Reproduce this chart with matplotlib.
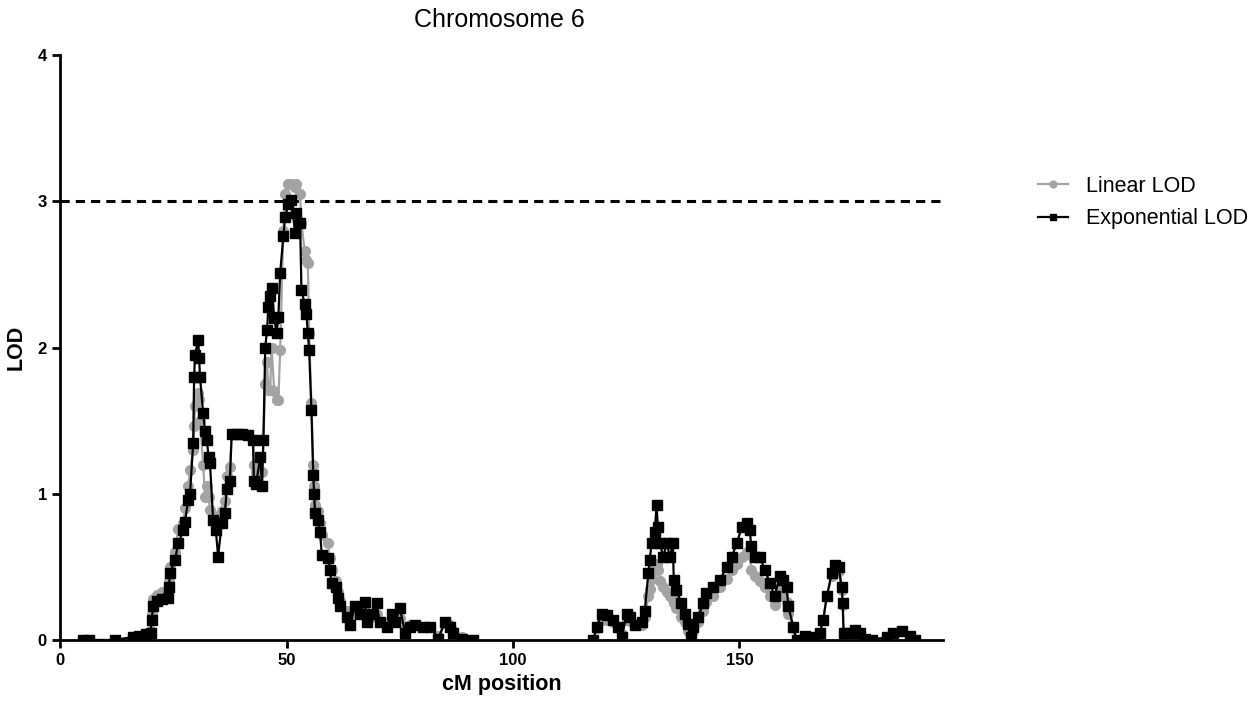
import numpy as np
import matplotlib.pyplot as plt

plt.rcParams['font.family'] = ['Liberation Sans', 'DejaVu Sans']

# cM positions and LOD scores
cm_a = [5.0, 6.5, 12.1, 16.0, 17.5, 19.0, 20.0, 20.2, 20.6, 21.4, 22.6, 23.9, 24.0, 24.3,
        25.4, 26.1, 27.2, 27.6, 28.3, 28.7, 29.4, 29.6, 29.8, 30.5, 30.7, 30.9, 31.6, 32.0,
        32.4, 32.8, 33.1, 33.8, 34.4, 34.9, 35.7, 36.4, 36.8, 37.5, 37.9, 39.0, 40.2, 41.4,
        42.6, 42.8, 43.3, 44.2, 44.6, 44.9, 45.3, 45.7, 46.0, 46.4, 46.7, 47.3, 47.8, 48.2,
        48.6, 49.3, 49.7, 50.4, 51.1, 51.9, 52.2, 53.0, 53.3, 54.0, 54.4, 54.7, 55.0, 55.5,
        55.9, 56.1, 56.3, 57.0, 57.4, 57.8, 59.2, 59.5, 60.0, 61.0, 61.4, 61.8, 63.3, 64.0,
        65.1, 66.2, 67.3, 67.7, 68.8, 69.9, 70.6, 72.1, 73.2, 74.0, 75.0, 76.2, 77.3, 78.4,
        80.2, 81.7, 83.5, 85.0, 86.1, 86.8, 88.7, 91.2]
exp_a = [0, 0, 0, 0.02, 0.03, 0.04, 0.05, 0.14, 0.23, 0.27, 0.28, 0.29, 0.36, 0.46,
         0.55, 0.66, 0.75, 0.81, 0.96, 1.00, 1.35, 1.80, 1.95, 2.05, 1.93, 1.80, 1.55, 1.43,
         1.37, 1.25, 1.21, 0.82, 0.75, 0.57, 0.80, 0.87, 1.03, 1.09, 1.41, 1.41, 1.41, 1.40,
         1.37, 1.09, 1.07, 1.25, 1.05, 1.37, 2.00, 2.12, 2.28, 2.35, 2.41, 2.20, 2.10, 2.21,
         2.51, 2.76, 2.89, 2.98, 3.01, 2.78, 2.92, 2.85, 2.39, 2.30, 2.23, 2.10, 1.98, 1.57,
         1.13, 1.00, 0.87, 0.82, 0.74, 0.58, 0.56, 0.48, 0.39, 0.36, 0.29, 0.23, 0.16, 0.10,
         0.23, 0.18, 0.26, 0.12, 0.18, 0.25, 0.12, 0.09, 0.18, 0.12, 0.22, 0.05, 0.09, 0.10,
         0.09, 0.09, 0.01, 0.12, 0.09, 0.05, 0.01, 0]
lin_a = [0, 0, 0, 0.02, 0.03, 0.04, 0.06, 0.18, 0.28, 0.31, 0.33, 0.33, 0.40, 0.50,
         0.60, 0.76, 0.80, 0.90, 1.05, 1.16, 1.30, 1.46, 1.60, 1.69, 1.65, 1.50, 1.20, 0.98,
         1.05, 0.98, 0.89, 0.85, 0.80, 0.85, 0.88, 0.95, 1.12, 1.18, 1.41, 1.41, 1.41, 1.40,
         1.37, 1.20, 1.15, 1.25, 1.15, 1.37, 1.75, 1.90, 1.71, 1.71, 2.00, 1.70, 1.64, 1.64,
         1.98, 2.80, 3.05, 3.12, 3.12, 3.10, 3.12, 3.05, 2.85, 2.66, 2.60, 2.58, 2.10, 1.62,
         1.20, 1.05, 0.92, 0.88, 0.80, 0.72, 0.66, 0.56, 0.48, 0.40, 0.33, 0.27, 0.20, 0.15,
         0.20, 0.18, 0.20, 0.14, 0.16, 0.18, 0.12, 0.11, 0.14, 0.12, 0.15, 0.08, 0.10, 0.10,
         0.09, 0.09, 0.03, 0.12, 0.10, 0.06, 0.02, 0]

cm_b = [117.7, 118.5, 119.6, 120.7, 122.1, 123.2, 124.0, 125.1, 125.8, 126.9, 128.4, 129.1,
        129.9, 130.2, 130.6, 131.3, 131.7, 132.0, 132.4, 133.2, 133.9, 134.7, 135.3, 135.5,
        136.1, 137.2, 138.0, 138.7, 139.4, 139.7, 140.9, 142.0, 142.7, 144.2, 145.7, 147.2,
        148.3, 149.4, 150.5, 151.6, 152.3, 152.6, 153.4, 154.5, 155.6, 156.7, 157.8, 158.9,
        159.7, 160.4, 160.8, 161.9, 162.6, 164.5, 166.3, 167.8, 168.5, 169.3, 170.4, 171.1,
        171.9, 172.6, 172.8, 173.0, 174.4, 175.5, 176.6, 177.7, 179.2, 182.5, 184.0, 185.8,
        187.6, 188.7]
exp_b = [0, 0.09, 0.18, 0.17, 0.14, 0.09, 0.02, 0.18, 0.16, 0.10, 0.12, 0.20,
         0.46, 0.55, 0.66, 0.74, 0.92, 0.77, 0.66, 0.57, 0.66, 0.57, 0.66, 0.41,
         0.34, 0.25, 0.18, 0.11, 0.02, 0.09, 0.16, 0.25, 0.32, 0.36, 0.41, 0.50,
         0.57, 0.66, 0.77, 0.80, 0.75, 0.64, 0.57, 0.57, 0.48, 0.39, 0.30, 0.44,
         0.41, 0.36, 0.23, 0.09, 0, 0.03, 0.02, 0.05, 0.14, 0.30, 0.46, 0.51,
         0.50, 0.36, 0.25, 0.05, 0.05, 0.07, 0.05, 0.01, 0, 0.02, 0.05, 0.06,
         0.03, 0]
lin_b = [0, 0.08, 0.14, 0.14, 0.12, 0.08, 0.04, 0.14, 0.13, 0.10, 0.10, 0.16,
         0.30, 0.35, 0.42, 0.50, 0.52, 0.48, 0.40, 0.36, 0.33, 0.30, 0.28, 0.25,
         0.22, 0.16, 0.12, 0.06, 0.02, 0.06, 0.12, 0.20, 0.26, 0.30, 0.36, 0.42,
         0.48, 0.52, 0.57, 0.60, 0.58, 0.48, 0.44, 0.40, 0.36, 0.30, 0.24, 0.34,
         0.30, 0.26, 0.18, 0.08, 0, 0.03, 0.02, 0.05, 0.14, 0.30, 0.44, 0.48,
         0.47, 0.34, 0.24, 0.05, 0.05, 0.07, 0.05, 0.01, 0, 0.02, 0.05, 0.06,
         0.03, 0]

threshold = 3

fig = plt.figure(figsize=(12.51, 7.06), dpi=100)
ax = fig.add_axes([0.048, 0.0935, 0.706, 0.8285])

gray = '#a3a3a3'
for k, (cm, lin) in enumerate([(cm_a, lin_a), (cm_b, lin_b)]):
    ax.plot(cm, lin, color=gray, marker='o', markersize=7, linewidth=1.6,
            label='Linear LOD' if k == 0 else None, zorder=2)
for k, (cm, ex) in enumerate([(cm_a, exp_a), (cm_b, exp_b)]):
    ax.plot(cm, ex, color='black', marker='s', markersize=7, linewidth=1.6,
            label='Exponential LOD' if k == 0 else None, zorder=3)

ax.axhline(threshold, color='black', linestyle=(0, (3, 2)), linewidth=2.2, zorder=1)

ax.set_xlim(0, 195)
ax.set_ylim(0, 4)
ax.set_xticks([0, 50, 100, 150])
ax.set_yticks([0, 1, 2, 3, 4])
for s in ['top', 'right']:
    ax.spines[s].set_visible(False)
for s in ['left', 'bottom']:
    ax.spines[s].set_linewidth(2)
ax.tick_params(width=2, length=6, labelsize=12)
for lab in ax.get_xticklabels() + ax.get_yticklabels():
    lab.set_fontweight('bold')

ax.set_xlabel('cM position', fontsize=15.5, fontweight='bold', labelpad=4)
ax.set_ylabel('LOD', fontsize=15.5, fontweight='bold', labelpad=8)
ax.set_title('Chromosome 6', fontsize=18, pad=20, x=0.497)

ax.legend(loc='upper left', bbox_to_anchor=(1.0856, 0.827), frameon=False,
          fontsize=15.5, handlelength=1.4, labelspacing=0.55, markerscale=0.7)

fig.savefig('out.png', dpi=100)
